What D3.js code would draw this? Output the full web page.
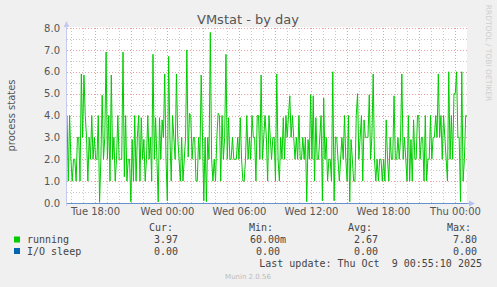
<!DOCTYPE html>
<html>
<head>
<meta charset="utf-8">
<script src="https://cdn.jsdelivr.net/npm/d3@7"></script>
<style>
  body { margin: 0; background: #f0f0f0; }
  svg { display: block; }
  text { font-family: 'DejaVu Sans', sans-serif; }
  .mono { font-family: 'DejaVu Sans Mono', monospace; white-space: pre; }
</style>
</head>
<body>
<div class="graph"></div>
<script>
// time range of the day graph (UTC used as wall clock)
var startTime = Date.UTC(2025, 9, 7, 15, 40);
var endTime = Date.UTC(2025, 9, 9, 1, 0);

// running processes, read left to right off the picture
var running = [
  4,1,4,2,1,2,2,1,3,3,1,5.9,3,5.85,4,3,1,3,2,4,2,3,2,2,4,0.03,2,4.93,2,3,6.9,2,4,1,5.85,2,3,1,2,4,2,
  2,2,6.9,1.2,4,1,2,2,0.05,2.9,1,4,1,3,4,1,3.9,2,2.9,1,2,4,2,3,1,6.8,2,3.9,2,0.05,3.9,2,3.8,3,5.9,2,0.1,6.7,3,1,4,3,2,5.9,
  3,2,1,3,1,2,3,7,2.1,4.1,4,2,3,3,1,1,3,2,5.85,3,0.1,3,0.06,3,2,7.8,2,1,2,1,3,4.1,4,1,4,2,3,6.8,2,3.9,2,2,3,2,
  2,2,3,2,3.9,2,1,1,2,4,2,3,2,4,3,3,1,4,4,2,5.85,2,3,4,3,1,4,3,2,3,3,1,5.9,2,1,3,2,3.9,2,4,3,4,4.9,3,4,3,
  2,3,2,4,2,2,3,2,3,0.06,2.9,2,4.95,2,4.9,1,3.9,2,2,3,4,0.1,4.8,2,3,1,2,2,1,6,0.1,3,3,2,1,2,3,2,4,2,1,4,0.06,2.9,2,1,
  1,4,5,2,3,4,1,3.8,3,3,3,4.95,2,3,5.9,2,1,2,1,2,2,1,2,1,3.8,2,1,3,2,2,4.9,2,2,3,2,3,5.9,2,3,2,1,4,1,2.9,1,3.8,
  2,2,4,4,2,3,3,1,4,1,2,2,4,2,3,3,4,3,5.9,3,4,2,4,3,2,1,6,2,4,2,5,5,6,3,3,0.06,6,1,2,4,3.97
];
var ioSleep = running.map(() => 0);

var yTicks = [0, 1, 2, 3, 4, 5, 6, 7, 8];
var seriesNames = ['running', 'I/O sleep'];
var seriesColors = ['#00cc00', '#0066b3'];
var legendCur = ['3.97 ', '0.00 '];
var legendMin = ['60.00m', '0.00 '];
var legendAvg = ['2.67 ', '0.00 '];
var legendMax = ['7.80 ', '0.00 '];

var W = 497, H = 287;
var margin = {top: 28, left: 67, right: 30, bottom: 84},
    width = W - margin.left - margin.right,
    height = H - margin.top - margin.bottom;

var svg = d3.select('div.graph')
    .append('svg')
        .attr('width', W)
        .attr('height', H);

svg.append('rect')
    .attr('width', W)
    .attr('height', H)
    .attr('fill', '#f0f0f0');

var g = svg.append('g')
    .attr('transform', 'translate(' + margin.left + ',' + margin.top + ')');

var x = d3.scaleUtc()
    .domain([startTime, endTime])
    .range([0, width]);
var y = d3.scaleLinear()
    .domain([0, 8])
    .range([height, 0]);

g.append('rect')
    .attr('y', -1)
    .attr('width', width)
    .attr('height', height + 1)
    .attr('fill', '#fff');

// minor grid
g.append('g')
    .selectAll('line.hmin')
    .data(d3.range(0.5, 8, 1))
    .enter()
    .append('line')
        .attr('x1', 0).attr('x2', width)
        .attr('y1', (d) => Math.round(y(d)) + 0.5)
        .attr('y2', (d) => Math.round(y(d)) + 0.5)
        .attr('stroke', '#c8c8c8')
        .attr('stroke-dasharray', '1,2');
g.append('g')
    .selectAll('line.vmin')
    .data(d3.utcHour.every(1).range(new Date(startTime), new Date(endTime)))
    .enter()
    .append('line')
        .attr('x1', (d) => Math.round(x(d)) + 0.5)
        .attr('x2', (d) => Math.round(x(d)) + 0.5)
        .attr('y1', 0).attr('y2', height)
        .attr('stroke', '#c8c8c8')
        .attr('stroke-dasharray', '1,2');

// major grid
g.append('g')
    .selectAll('line.hmaj')
    .data(yTicks.slice(1))
    .enter()
    .append('line')
        .attr('x1', 0).attr('x2', width)
        .attr('y1', (d) => Math.round(y(d)) + 0.5)
        .attr('y2', (d) => Math.round(y(d)) + 0.5)
        .attr('stroke', '#eaa0a0')
        .attr('stroke-dasharray', '1,2');
g.append('g')
    .selectAll('line.vmaj')
    .data(d3.utcHour.every(3).range(new Date(startTime), new Date(endTime)))
    .enter()
    .append('line')
        .attr('x1', (d) => Math.round(x(d)) + 0.5)
        .attr('x2', (d) => Math.round(x(d)) + 0.5)
        .attr('y1', 0).attr('y2', height)
        .attr('stroke', '#eaa0a0')
        .attr('stroke-dasharray', '1,2');

var step = (endTime - startTime) / (running.length - 1);

var line = d3.line()
    .x((d, i) => x(startTime + i * step))
    .y((d) => y(d));

g.append('path')
    .datum(running)
    .attr('fill', 'none')
    .attr('stroke', seriesColors[0])
    .attr('stroke-width', 1)
    .attr('d', line);

// axes lines with arrows
g.append('line')
    .attr('x1', 0).attr('x2', width + 4)
    .attr('y1', height + 0.5).attr('y2', height + 0.5)
    .attr('stroke', '#97a8dd');
g.append('path')
    .datum(ioSleep)
    .attr('fill', 'none')
    .attr('stroke', seriesColors[1])
    .attr('stroke-opacity', 0.35)
    .attr('d', line.y((d) => Math.round(y(d)) + 0.5));
g.append('line')
    .attr('x1', -0.5).attr('x2', -0.5)
    .attr('y1', -4).attr('y2', height + 3)
    .attr('stroke', '#c5cbee');
g.append('path')
    .attr('d', 'M' + (width + 2) + ',' + (height - 2.5) + 'l6,3l-6,3z')
    .attr('fill', '#b7c0ee');
g.append('path')
    .attr('d', 'M-3.5,-1l3,-6l3,6z')
    .attr('fill', '#c5cbee');

// y labels
g.append('g')
    .call(d3.axisLeft(y).tickValues(yTicks).tickFormat(d3.format('.1f')).tickSize(0).tickPadding(7))
    .call((a) => a.select('.domain').remove())
    .selectAll('text')
        .style('font-family', '"DejaVu Sans", sans-serif')
        .style('font-size', '10px')
        .attr('fill', '#555');

// x labels
g.append('g')
    .attr('transform', 'translate(0,' + height + ')')
    .call(d3.axisBottom(x).ticks(d3.utcHour.every(6)).tickFormat(d3.utcFormat('%a %H:%M')).tickSize(0).tickPadding(5))
    .call((a) => a.select('.domain').remove())
    .selectAll('text')
        .style('font-family', '"DejaVu Sans", sans-serif')
        .style('font-size', '10px')
        .attr('fill', '#555');

svg.append('text')
    .attr('x', 248)
    .attr('y', 24)
    .attr('text-anchor', 'middle')
    .style('font-size', '13px')
    .attr('fill', '#555')
    .text('VMstat - by day');

svg.append('text')
    .attr('transform', 'translate(15,' + (margin.top + height / 2) + ') rotate(-90)')
    .attr('text-anchor', 'middle')
    .style('font-size', '10px')
    .attr('fill', '#555')
    .text('process states');

svg.append('text')
    .attr('transform', 'translate(486,53) rotate(90)')
    .attr('text-anchor', 'middle')
    .style('font-size', '7.5px')
    .attr('fill', '#cfcfcf')
    .text('RRDTOOL / TOBI OETIKER');

// legend
var headers = [['Cur:', 149], ['Min:', 249], ['Avg:', 348], ['Max:', 447]];
svg.selectAll('text.hdr')
    .data(headers)
    .enter()
    .append('text')
        .attr('class', 'mono')
        .attr('x', (d) => d[1])
        .attr('y', 231)
        .style('font-size', '10px')
        .attr('fill', '#444')
        .text((d) => d[0]);

var rows = svg.selectAll('g.row')
    .data(seriesNames)
    .enter()
    .append('g')
        .attr('transform', (d, i) => 'translate(0,' + (243 + i * 11.5) + ')');
rows.append('rect')
    .attr('x', 14).attr('y', -6.5)
    .attr('width', 6).attr('height', 6)
    .attr('fill', (d, i) => seriesColors[i]);
rows.append('text')
    .attr('class', 'mono')
    .attr('x', 27)
    .style('font-size', '10px')
    .attr('fill', '#444')
    .text((d) => d);
[[legendCur, 184], [legendMin, 286], [legendAvg, 384], [legendMax, 483]].forEach((col) => {
    rows.append('text')
        .attr('class', 'mono')
        .attr('x', col[1])
        .attr('text-anchor', 'end')
        .style('font-size', '10px')
        .attr('fill', '#444')
        .text((d, i) => col[0][i]);
});

svg.append('text')
    .attr('class', 'mono')
    .attr('x', 482)
    .attr('y', 267)
    .attr('text-anchor', 'end')
    .style('font-size', '10px')
    .attr('fill', '#444')
    .text('Last update: Thu Oct  9 00:55:10 2025');

svg.append('text')
    .attr('x', 248)
    .attr('y', 279)
    .attr('text-anchor', 'middle')
    .style('font-size', '7px')
    .attr('fill', '#bbb')
    .text('Munin 2.0.56');
</script>
</body>
</html>
